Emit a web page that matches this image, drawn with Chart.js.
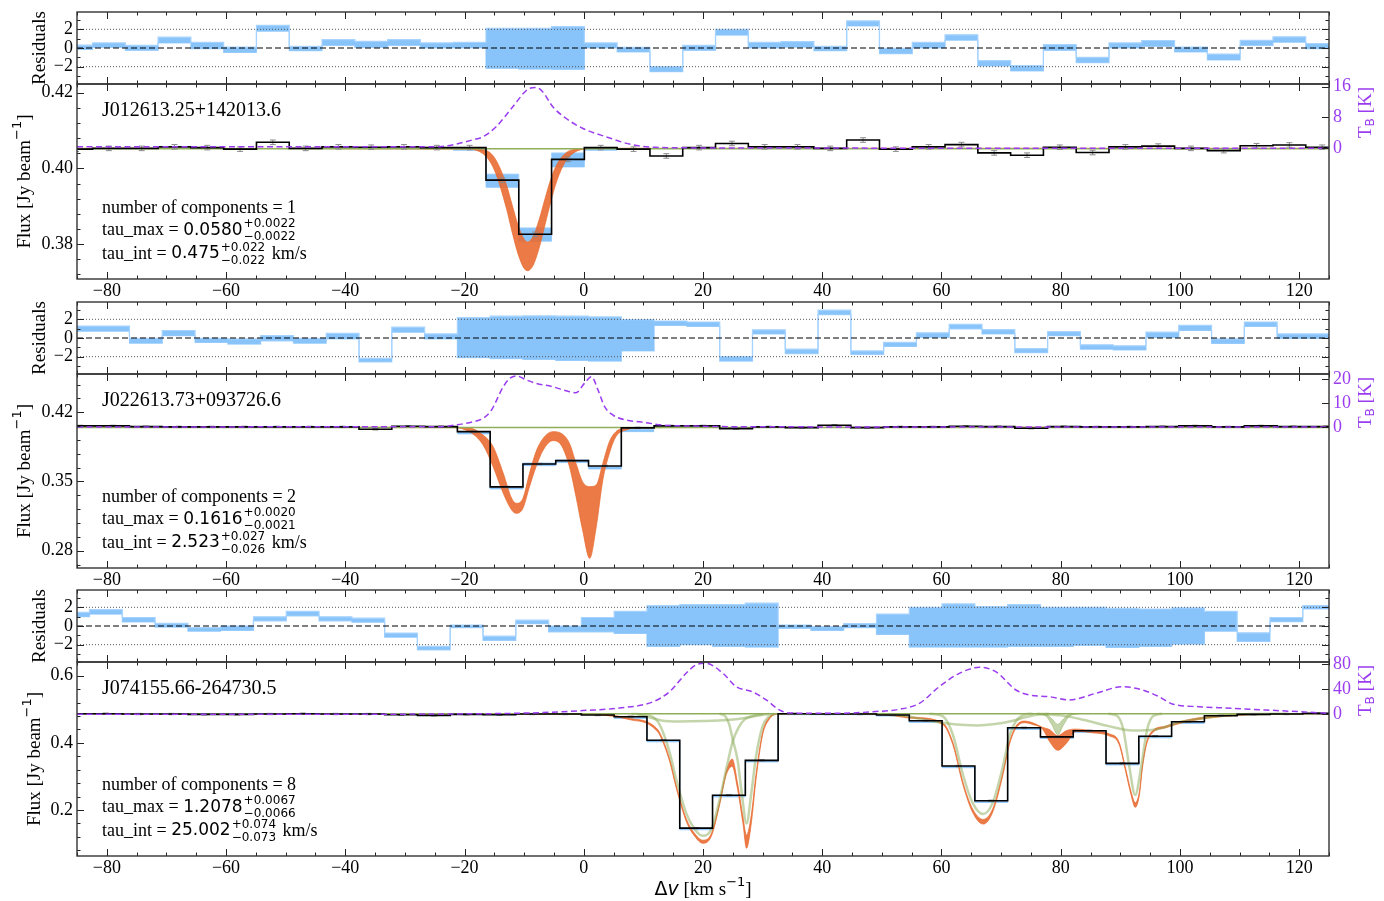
<!DOCTYPE html>
<html>
<head>
<meta charset="utf-8">
<script src="https://cdn.jsdelivr.net/npm/chart.js@4.4.1/dist/chart.umd.min.js"></script>
<style>
  body { margin: 0; background: #fff; }
  #wrap { position: relative; width: 1384px; height: 901px; overflow: hidden; }
  canvas { position: absolute; left: 0; }
</style>
</head>
<body>
<div id="wrap">
  <canvas id="res1" width="1384" height="80" style="top:8px"></canvas>
  <canvas id="flux1" width="1384" height="246" style="top:64px"></canvas>
  <canvas id="res2" width="1384" height="80" style="top:298px"></canvas>
  <canvas id="flux2" width="1384" height="246" style="top:354px"></canvas>
  <canvas id="res3" width="1384" height="80" style="top:586px"></canvas>
  <canvas id="flux3" width="1384" height="259" style="top:642px"></canvas>
</div>
<script>
// ---- velocity axis ----
const X_MIN = -85, X_MAX = 125;
const xTickValues = [-80, -60, -40, -20, 0, 20, 40, 60, 80, 100, 120];

// ---- J012613.25+142013.6 ----
const p1Edges = [-87.9, -82.4, -76.9, -71.4, -65.9, -60.4, -54.9, -49.4, -43.9, -38.4, -32.9, -27.4, -21.9, -16.4, -10.9, -5.4, 0.1, 5.6, 11.1, 16.6, 22.1, 27.6, 33.1, 38.6, 44.1, 49.6, 55.1, 60.6, 66.1, 71.6, 77.1, 82.6, 88.1, 93.6, 99.1, 104.6, 110.1, 115.6, 121.1, 126.6];
const p1Flux = [0.4051, 0.4053, 0.4053, 0.4057, 0.4055, 0.4051, 0.4069, 0.4053, 0.4057, 0.4056, 0.4057, 0.4055, 0.4055, 0.3969, 0.3826, 0.4024, 0.4055, 0.4051, 0.4033, 0.4055, 0.4066, 0.4057, 0.4057, 0.4053, 0.4075, 0.4051, 0.4057, 0.4063, 0.4041, 0.4035, 0.4056, 0.4042, 0.4057, 0.4059, 0.4053, 0.4047, 0.4060, 0.4062, 0.4056];
const p1FluxErr = 0.0006;
const p1ResLo = [-0.15, 0.07, -0.25, 0.54, -0.07, -0.47, 1.8, -0.29, 0.29, 0.07, 0.29, 0, 0, -2.17, -2.25, -2.28, 0, -0.43, -2.54, -0.25, 1.38, 0, 0.1, -0.29, 2.36, -0.6, 0, 0.83, -1.92, -2.46, -0.25, -1.56, 0, 0.18, -0.43, -1.27, 0.29, 0.62, -0.07];
const p1ResHi = [0.3, 0.54, 0.29, 1.16, 0.6, 0.1, 2.43, 0.18, 0.9, 0.72, 0.9, 0.54, 0.6, 2.1, 2.1, 2.28, 0.54, 0.07, -2.0, 0.29, 2.0, 0.6, 0.69, 0.18, 2.9, -0.05, 0.6, 1.41, -1.34, -1.88, 0.36, -1.0, 0.54, 0.8, 0.1, -0.65, 0.83, 1.2, 0.47];
const p1BandEdges = [-21.9, -16.4, -10.9, -5.4, 0.1, 5.6];
const p1BandLo = [0.4048, 0.3950, 0.3808, 0.4004, 0.4048];
const p1BandHi = [0.4055, 0.3985, 0.3843, 0.4041, 0.4055];
const p1ModelV = [-85, -20, -17, -15, -13, -12, -11, -10, -9.4, -8.5, -7.5, -6.5, -5.5, -4.5, -3, -1.5, 0, 2, 125];
const p1ModelLo = [0.4053, 0.4051, 0.4040, 0.3996, 0.3896, 0.3831, 0.3773, 0.3736, 0.3730, 0.3744, 0.3789, 0.3851, 0.3914, 0.3968, 0.4020, 0.4043, 0.4051, 0.4053, 0.4053];
const p1ModelHi = [0.4053, 0.4053, 0.4050, 0.4029, 0.3958, 0.3903, 0.3849, 0.3813, 0.3806, 0.3820, 0.3864, 0.3920, 0.3973, 0.4011, 0.4041, 0.4051, 0.4053, 0.4053, 0.4053];
const p1Continuum = 0.4052;
const p1TbV = [-85, -40, -24.2, -21.4, -18.6, -16.9, -14.7, -11.9, -9.4, -8.0, -6.9, -5.2, -3.0, -0.2, 3.7, 8.2, 12.1, 20, 125];
const p1Tb = [0.4, 0.4, 0.43, 1.1, 2.2, 3.0, 5.6, 10.8, 15.3, 15.8, 14.7, 10.8, 7.8, 5.2, 3.0, 0.9, 0.26, 0.1, 0.0];

// ---- J022613.73+093726.6 ----
const p2Edges = [-87.2, -81.7, -76.2, -70.7, -65.2, -59.7, -54.2, -48.7, -43.2, -37.7, -32.2, -26.7, -21.2, -15.7, -10.2, -4.7, 0.8, 6.3, 11.8, 17.3, 22.8, 28.3, 33.8, 39.3, 44.8, 50.3, 55.8, 61.3, 66.8, 72.3, 77.8, 83.3, 88.8, 94.3, 99.8, 105.3, 110.8, 116.3, 121.8, 127.3];
const p2Flux = [0.4062, 0.4062, 0.4055, 0.4052, 0.4052, 0.4052, 0.4052, 0.4052, 0.4052, 0.4028, 0.4058, 0.4055, 0.4004, 0.3445, 0.3677, 0.3711, 0.3657, 0.4042, 0.4062, 0.4062, 0.4035, 0.4052, 0.4045, 0.4069, 0.4045, 0.4052, 0.4052, 0.4059, 0.4055, 0.4039, 0.4055, 0.4052, 0.4052, 0.4055, 0.4062, 0.4052, 0.4062, 0.4055, 0.4055];
const p2FluxErr = 0.0007;
const p2ResLo = [0.73, 0.73, -0.55, 0.25, -0.47, -0.65, -0.3, -0.55, -0.1, -2.55, 0.62, -0.1, -2.1, -2.22, -2.29, -2.4, -2.47, -1.38, 1.35, 1.24, -2.47, 0.44, -1.67, 2.5, -1.75, -0.9, 0.07, 0.98, 0.44, -1.56, 0.25, -1.2, -1.27, 0.07, 0.8, -0.58, 1.24, -0.04, -0.04];
const p2ResHi = [1.27, 1.27, -0.04, 0.8, -0.04, -0.1, 0.25, -0.04, 0.5, -2.18, 1.16, 0.44, 2.18, 2.33, 2.36, 2.33, 2.25, 1.96, 1.82, 1.71, -2.0, 0.87, -1.2, 2.98, -1.38, -0.47, 0.55, 1.45, 0.9, -1.13, 0.69, -0.73, -0.84, 0.62, 1.35, -0.1, 1.71, 0.44, 0.44];
const p2BandEdges = [-21.2, -15.7, -10.2, -4.7, 0.8, 6.3, 11.8];
const p2BandLo = [0.3981, 0.3424, 0.3660, 0.3691, 0.3626, 0.4004];
const p2BandHi = [0.4004, 0.3441, 0.3687, 0.3718, 0.3650, 0.4028];
const p2ModelV = [-85, -22, -19.1, -16.9, -15.2, -13.5, -12.1, -11.3, -10.2, -9.1, -8.0, -6.8, -5.2, -3.8, -2.4, -1.3, -0.2, 1.0, 2.1, 3.2, 4.3, 5.4, 7.1, 9.4, 125];
const p2ModelLo = [0.4048, 0.4044, 0.4000, 0.3870, 0.3650, 0.3380, 0.3212, 0.3178, 0.3229, 0.3448, 0.3650, 0.3819, 0.3913, 0.3869, 0.3650, 0.3347, 0.3010, 0.2723, 0.3043, 0.3515, 0.3785, 0.3954, 0.4021, 0.4045, 0.4048];
const p2ModelHi = [0.4048, 0.4048, 0.4040, 0.3970, 0.3852, 0.3583, 0.3330, 0.3279, 0.3330, 0.3583, 0.3802, 0.3937, 0.4004, 0.3987, 0.3886, 0.3684, 0.3498, 0.3448, 0.3465, 0.3684, 0.3903, 0.4004, 0.4038, 0.4045, 0.4048];
const p2Continuum = 0.4046;
const p2TbV = [-85, -40, -24.2, -21.4, -18.6, -16.9, -15.5, -13.5, -12.4, -11.3, -9.6, -8.0, -5.2, -2.4, -1.3, 0.1, 1.3, 2.4, 3.5, 4.9, 7.1, 9.4, 13.1, 18.6, 30, 125];
const p2Tb = [0.1, 0.2, 0.25, 1.0, 2.3, 3.7, 7.1, 16.9, 20.4, 21.4, 19.7, 18.3, 16.9, 14.8, 14.4, 18.3, 21.1, 15.5, 8.6, 5.1, 3.0, 2.3, 1.0, 0.5, 0.2, 0.1];

// ---- J074155.66-264730.5 ----
const p3Edges = [-88.4, -82.9, -77.4, -71.9, -66.4, -60.9, -55.4, -49.9, -44.4, -38.9, -33.4, -27.9, -22.4, -16.9, -11.4, -5.9, -0.4, 5.1, 10.6, 16.1, 21.6, 27.1, 32.6, 38.1, 43.6, 49.1, 54.6, 60.1, 65.6, 71.1, 76.6, 82.1, 87.6, 93.1, 98.6, 104.1, 109.6, 115.1, 120.6, 126.1];
const p3Flux = [0.487, 0.487, 0.486, 0.486, 0.485, 0.485, 0.486, 0.487, 0.486, 0.486, 0.484, 0.482, 0.485, 0.484, 0.486, 0.486, 0.483, 0.478, 0.408, 0.146, 0.244, 0.348, 0.487, 0.486, 0.486, 0.483, 0.466, 0.331, 0.2275, 0.445, 0.418, 0.436, 0.339, 0.420, 0.463, 0.481, 0.485, 0.486, 0.488];
const p3FluxErr = 0.002;
const p3ResLo = [1.0, 1.27, 0.44, -0.11, -0.55, -0.47, 0.55, 1.09, 0.55, 0.4, -1.2, -2.55, -0.18, -1.53, 0.25, -0.62, -0.62, -0.8, -2.18, -2.0, -2.18, -2.25, -0.25, -0.47, -0.18, -0.91, -2.25, -2.25, -2.25, -2.18, -2.18, -2.07, -2.29, -2.18, -1.93, -0.55, -1.64, 0.47, 1.82];
const p3ResHi = [1.45, 1.75, 0.91, 0.29, -0.18, 0, 0.98, 1.56, 0.98, 0.84, -0.76, -2.18, 0.1, -1.09, 0.62, 0, 0.91, 1.56, 2.18, 2.29, 2.29, 2.44, 0.1, -0.07, 0.25, 1.27, 2.0, 2.36, 2.07, 2.29, 2.0, 2.0, 1.89, 1.82, 1.93, 1.56, -0.73, 0.91, 2.18];
const p3BandEdges = [5.1, 10.6, 16.1, 21.6, 27.1, 32.6, 38.1, 43.6, 49.1, 54.6, 60.1, 65.6, 71.1, 76.6, 82.1, 87.6, 93.1, 98.6, 104.1];
const p3BandLo = [0.473, 0.403, 0.141, 0.239, 0.343, 0.484, 0.484, 0.484, 0.480, 0.461, 0.326, 0.2225, 0.440, 0.413, 0.431, 0.334, 0.415, 0.458];
const p3BandHi = [0.478, 0.408, 0.146, 0.244, 0.348, 0.487, 0.487, 0.487, 0.483, 0.466, 0.331, 0.2275, 0.445, 0.418, 0.436, 0.339, 0.420, 0.463];
const p3ModelV = [-85, -20, 0, 5.0, 8.0, 10.5, 12.0, 12.7, 14.4, 15.5, 17.2, 18.6, 20.0, 21.4, 22.8, 23.9, 24.9, 25.8, 26.7, 27.3, 28.1, 28.9, 30.0, 31.1, 32.3, 40, 50, 54.6, 60.2, 61.9, 63.6, 65.2, 67.0, 68.6, 70.3, 71.4, 72.5, 73.9, 75.3, 77.0, 78.1, 79.5, 81.0, 82.6, 85.3, 88.1, 89.8, 90.9, 91.8, 92.5, 93.2, 93.7, 94.4, 95.4, 97.6, 100.4, 103.2, 108.8, 114.4, 125];
const p3ModelLo = [0.487, 0.486, 0.485, 0.479, 0.468, 0.459, 0.440, 0.425, 0.345, 0.266, 0.166, 0.122, 0.101, 0.122, 0.216, 0.305, 0.330, 0.262, 0.160, 0.086, 0.160, 0.292, 0.424, 0.470, 0.485, 0.487, 0.485, 0.474, 0.455, 0.395, 0.275, 0.194, 0.158, 0.194, 0.304, 0.395, 0.444, 0.460, 0.455, 0.440, 0.405, 0.378, 0.400, 0.435, 0.430, 0.421, 0.395, 0.314, 0.245, 0.208, 0.245, 0.324, 0.395, 0.430, 0.445, 0.460, 0.470, 0.481, 0.485, 0.487];
const p3ModelHi = [0.487, 0.487, 0.487, 0.482, 0.472, 0.464, 0.447, 0.432, 0.353, 0.274, 0.174, 0.130, 0.110, 0.130, 0.224, 0.315, 0.352, 0.280, 0.180, 0.125, 0.185, 0.308, 0.432, 0.476, 0.487, 0.487, 0.486, 0.477, 0.460, 0.402, 0.283, 0.204, 0.172, 0.204, 0.312, 0.402, 0.450, 0.465, 0.460, 0.446, 0.440, 0.422, 0.437, 0.441, 0.436, 0.427, 0.402, 0.323, 0.255, 0.222, 0.255, 0.333, 0.402, 0.436, 0.450, 0.465, 0.475, 0.484, 0.487, 0.487];
const p3Continuum = 0.487;
// individual Gaussian components (velocity, flux)
const p3Comp1V = [8, 11, 12.7, 14.4, 15.5, 17.2, 18.6, 20.0, 21.4, 22.8, 24.0, 25.0, 26.0, 27.0, 28.3, 30.0];
const p3Comp1 = [0.486, 0.482, 0.455, 0.372, 0.292, 0.190, 0.143, 0.123, 0.143, 0.232, 0.330, 0.405, 0.447, 0.470, 0.480, 0.485];
const p3Comp2V = [9, 11, 13, 16, 20, 24, 27, 29, 31];
const p3Comp2 = [0.486, 0.476, 0.467, 0.464, 0.465, 0.468, 0.474, 0.481, 0.486];
const p3Comp3V = [22.8, 23.8, 24.4, 25.0, 25.8, 26.5, 27.3, 28.1, 28.9, 30.0, 31.0, 32.0];
const p3Comp3 = [0.487, 0.478, 0.455, 0.409, 0.349, 0.25, 0.16, 0.25, 0.36, 0.45, 0.478, 0.487];
const p3Comp4V = [58, 60.2, 61.9, 63.6, 65.2, 67.0, 68.6, 70.3, 71.4, 72.5, 73.9, 75.3];
const p3Comp4 = [0.487, 0.480, 0.425, 0.305, 0.222, 0.188, 0.222, 0.330, 0.420, 0.465, 0.484, 0.487];
const p3Comp5V = [50, 54.6, 58, 61, 64, 66, 69, 72, 74, 76, 78];
const p3Comp5 = [0.487, 0.478, 0.466, 0.458, 0.453, 0.452, 0.456, 0.466, 0.476, 0.484, 0.487];
const p3Comp6V = [76, 77.5, 78.5, 79.5, 80.5, 81.5, 83];
const p3Comp6Lo = [0.487, 0.480, 0.455, 0.425, 0.455, 0.480, 0.487];
const p3Comp6Hi = [0.487, 0.485, 0.472, 0.455, 0.472, 0.485, 0.487];
const p3Comp7V = [88, 89.5, 90.5, 91.5, 92.5, 93.5, 94.5, 95.5, 97];
const p3Comp7 = [0.487, 0.480, 0.440, 0.330, 0.245, 0.330, 0.440, 0.480, 0.487];
const p3Comp8V = [76, 80, 84, 88, 92, 96, 100, 104, 108, 112, 118];
const p3Comp8 = [0.487, 0.482, 0.468, 0.450, 0.437, 0.440, 0.462, 0.474, 0.482, 0.486, 0.487];
const p3TbV = [-85, -40, -24.2, -7.4, -0.2, 6.0, 11.6, 14.4, 17.2, 18.8, 20.5, 23.3, 25.6, 28.3, 30.6, 32.8, 34.5, 42.9, 48.5, 52.9, 56.3, 59.6, 63.0, 66.4, 69.1, 72.5, 74.7, 78.1, 81.4, 85.9, 90.4, 93.7, 96.5, 98.7, 103.2, 108.8, 114.4, 120.0, 125];
const p3Tb = [0.0, 0.2, 0.5, 2.6, 6.0, 10.0, 20.0, 36.2, 66.0, 79.0, 81.6, 66.0, 44.0, 36.0, 23.0, 7.0, 2.0, 1.6, 4.2, 8.0, 17.6, 44.0, 65.6, 75.2, 68.2, 38.9, 30.9, 28.2, 22.9, 33.6, 44.2, 38.9, 28.2, 16.5, 12.2, 9.6, 6.9, 4.2, 1.6];

// ---- look ----
const SERIF = "'Liberation Serif', 'Times New Roman', serif";
const SANS = "'DejaVu Sans', sans-serif";
const PURPLE = '#9a3cf0';
const ORANGE = 'rgba(232, 104, 44, 0.88)';
const OLIVE = '#8fae5a';
const OLIVE_SOFT = 'rgba(140, 172, 88, 0.5)';
const BLUE = '#88c3fa';
const BLUE_EDGE = '#a6d3ff';
const NO_GRID = { display: false, drawTicks: false };

Chart.defaults.font.family = SERIF;
Chart.defaults.font.size = 18;
Chart.defaults.color = '#000';
Chart.defaults.elements.point.radius = 0;
Chart.defaults.elements.point.hoverRadius = 0;

const serif = n => n + "px " + SERIF;
const sans = n => n + "px " + SANS;

function fmt(v, d) {
    const s = Math.abs(v).toFixed(d);
    return v < 0 ? '\u2212' + s : s;
}

function stepPoints(edges, vals) {
    const pts = vals.map((v, i) => ({ x: edges[i], y: v }));
    pts.push({ x: edges[edges.length - 1], y: vals[vals.length - 1] });
    return pts;
}

function curve(xs, ys) {
    return xs.map((x, i) => ({ x: x, y: ys[i] }));
}

function errorBars(edges, vals, err) {
    const pts = [];
    vals.forEach((v, i) => {
        const c = (edges[i] + edges[i + 1]) / 2;
        pts.push({ x: c, y: v - err }, { x: c, y: v + err }, { x: c, y: null },
                 { x: c - 0.5, y: v - err }, { x: c + 0.5, y: v - err }, { x: c, y: null },
                 { x: c - 0.5, y: v + err }, { x: c + 0.5, y: v + err }, { x: c, y: null });
    });
    return pts;
}

function hline(y, color, dash, width) {
    return { data: [{ x: X_MIN, y: y }, { x: X_MAX, y: y }], borderColor: color, borderDash: dash, borderWidth: width };
}

function drawParts(ctx, x, y, parts) {
    parts.forEach(p => {
        ctx.font = p[1];
        ctx.fillText(p[0], x, y + (p[2] || 0));
        x += ctx.measureText(p[0]).width;
    });
}

function partsWidth(ctx, parts) {
    let w = 0;
    parts.forEach(p => { ctx.font = p[1]; w += ctx.measureText(p[0]).width; });
    return w;
}

function drawCentered(ctx, cx, cy, parts, rotate) {
    ctx.save();
    ctx.translate(cx, cy);
    if (rotate) ctx.rotate(-Math.PI / 2);
    drawParts(ctx, -partsWidth(ctx, parts) / 2, 0, parts);
    ctx.restore();
}

function drawTau(ctx, x, y, label, vals, unit) {
    ctx.font = serif(18);
    ctx.fillText(label, x, y);
    x += ctx.measureText(label).width;
    ctx.font = sans(17);
    ctx.fillText(vals[0], x, y);
    x += ctx.measureText(vals[0]).width + 1;
    ctx.font = sans(12);
    ctx.fillText(vals[1], x, y - 6.5);
    ctx.fillText(vals[2], x, y + 6.5);
    x += Math.max(ctx.measureText(vals[1]).width, ctx.measureText(vals[2]).width);
    if (unit) {
        ctx.font = serif(18);
        ctx.fillText(unit, x + 2, y);
    }
}

// inward ticks on all four sides plus the frame
const frameTicks = {
    id: 'frameTicks',
    afterDatasetsDraw(chart, args, o) {
        const ctx = chart.ctx, a = chart.chartArea;
        const sx = chart.scales.x, sy = chart.scales.y;
        const seg = (x1, y1, x2, y2) => { ctx.beginPath(); ctx.moveTo(x1, y1); ctx.lineTo(x2, y2); ctx.stroke(); };
        ctx.save();
        ctx.strokeStyle = '#222';
        ctx.lineWidth = 1;
        for (let v = -85; v <= 125; v += 5) {
            const px = Math.round(sx.getPixelForValue(v)) + 0.5;
            const len = v % 20 === 0 ? 7 : 3.5;
            seg(px, a.top, px, a.top + len);
            seg(px, a.bottom, px, a.bottom - len);
        }
        const majors = o.yMajor;
        const isMajor = v => majors.some(m => Math.abs(m - v) < o.yMinor * 0.01);
        const start = Math.ceil(sy.min / o.yMinor - 1e-6);
        for (let i = start; i * o.yMinor <= sy.max + 1e-9; i++) {
            const v = i * o.yMinor;
            const py = Math.round(sy.getPixelForValue(v)) + 0.5;
            const len = isMajor(v) ? 7 : 3.5;
            seg(a.left, py, a.left + len, py);
            if (o.mirror) seg(a.right, py, a.right - len, py);
        }
        if (o.rightMajor) {
            const s2 = chart.scales.y2;
            o.rightMajor.forEach(v => {
                const py = Math.round(s2.getPixelForValue(v)) + 0.5;
                seg(a.right, py, a.right - 7, py);
            });
        }
        ctx.lineWidth = 1.4;
        ctx.strokeStyle = '#333';
        ctx.strokeRect(a.left, a.top, a.right - a.left, a.bottom - a.top);
        ctx.restore();
    }
};

// axis titles and the fit summary text
const notes = {
    id: 'notes',
    afterDraw(chart, args, o) {
        const ctx = chart.ctx, a = chart.chartArea;
        ctx.save();
        ctx.textBaseline = 'middle';
        ctx.textAlign = 'left';
        ctx.fillStyle = '#000';
        if (o.resTitle) {
            drawCentered(ctx, 40, (a.top + a.bottom) / 2, [['Residuals', serif(19)]], true);
        }
        if (o.name) {
            ctx.font = serif(20);
            ctx.fillText(o.name, 102, a.top + 27);
            ctx.font = serif(18);
            ctx.fillText('number of components = ' + o.ncomp, 102, a.bottom - 71);
            drawTau(ctx, 102, a.bottom - 48.5, 'tau_max = ', o.tauMax, '');
            drawTau(ctx, 102, a.bottom - 25, 'tau_int = ', o.tauInt, ' km/s');
            drawCentered(ctx, o.fluxTitleX, (a.top + a.bottom) / 2,
                [['Flux [Jy beam', serif(19)], ['\u22121', sans(13), -7], [']', serif(19)]], true);
            ctx.fillStyle = PURPLE;
            drawCentered(ctx, 1366, a.top + 28.5,
                [['T', serif(19)], ['B', sans(12), 5], [' [K]', serif(19)]], true);
            ctx.fillStyle = '#000';
        }
        if (o.xTitle) {
            drawCentered(ctx, 703, a.bottom + 34,
                [['\u0394', sans(19)], ['v', 'italic ' + sans(19)], [' [km s', serif(19)], ['\u22121', sans(13), -7], [']', serif(19)]], false);
        }
        ctx.restore();
    }
};

Chart.register(frameTicks, notes);

function residualChart(id, edges, lo, hi) {
    return new Chart(document.getElementById(id), {
        type: 'line',
        data: {
            datasets: [
                hline(0, '#000', [6, 3], 1.2),
                hline(2, '#555', [1, 2], 1),
                hline(-2, '#555', [1, 2], 1),
                { data: stepPoints(edges, hi), stepped: true, borderColor: BLUE_EDGE, borderWidth: 1.2, backgroundColor: BLUE, fill: '+1' },
                { data: stepPoints(edges, lo), stepped: true, borderColor: BLUE_EDGE, borderWidth: 1.2 }
            ]
        },
        options: {
            responsive: false,
            animation: false,
            devicePixelRatio: 1,
            layout: { padding: { top: 4, bottom: 4, left: 0, right: 55 } },
            plugins: {
                legend: { display: false },
                tooltip: { enabled: false },
                frameTicks: { yMajor: [-2, 0, 2], yMinor: 1, mirror: true },
                notes: { resTitle: true }
            },
            scales: {
                x: { type: 'linear', min: X_MIN, max: X_MAX, display: false },
                y: {
                    min: -3.85, max: 3.85,
                    grid: NO_GRID, border: { display: false },
                    afterBuildTicks: s => { s.ticks = [-2, 0, 2].map(v => ({ value: v })); },
                    afterFit: s => { s.width = 77; s.paddingTop = 0; s.paddingBottom = 0; },
                    ticks: { padding: 4, callback: v => fmt(v, 0) }
                }
            }
        }
    });
}

function fluxChart(id, p) {
    const datasets = [
        { data: curve(p.tbV, p.tb), yAxisID: 'y2', borderColor: PURPLE, borderWidth: 1.5, borderDash: [6, 3.5], cubicInterpolationMode: 'monotone' },
        { data: stepPoints(p.edges, p.flux), stepped: true, borderColor: '#000', borderWidth: 1.6 },
        { data: errorBars(p.edges, p.flux, p.err), borderColor: '#8a8a8a', borderWidth: 1 }
    ];
    p.comps.forEach(c => {
        datasets.push({ data: curve(c[0], c[1]), borderColor: OLIVE_SOFT, borderWidth: 2.5, cubicInterpolationMode: 'monotone' });
    });
    p.compBands.forEach(c => {
        datasets.push(
            { data: curve(c[0], c[2]), borderColor: OLIVE_SOFT, borderWidth: 1, backgroundColor: OLIVE_SOFT, fill: '+1', cubicInterpolationMode: 'monotone' },
            { data: curve(c[0], c[1]), borderColor: OLIVE_SOFT, borderWidth: 1, cubicInterpolationMode: 'monotone' });
    });
    datasets.push(
        { data: curve([X_MIN, X_MAX], [p.cont, p.cont]), borderColor: OLIVE, borderWidth: 1.6 },
        { data: curve(p.modelV, p.modelHi), borderColor: ORANGE, borderWidth: 0.8, backgroundColor: ORANGE, fill: '+1', cubicInterpolationMode: 'monotone' },
        { data: curve(p.modelV, p.modelLo), borderColor: ORANGE, borderWidth: 0.8, cubicInterpolationMode: 'monotone' },
        { data: stepPoints(p.bandEdges, p.bandHi), stepped: true, borderColor: BLUE_EDGE, borderWidth: 1, backgroundColor: BLUE, fill: '+1' },
        { data: stepPoints(p.bandEdges, p.bandLo), stepped: true, borderColor: BLUE_EDGE, borderWidth: 1 }
    );

    return new Chart(document.getElementById(id), {
        type: 'line',
        data: { datasets: datasets },
        options: {
            responsive: false,
            animation: false,
            devicePixelRatio: 1,
            layout: { padding: { top: 20, bottom: 0, left: 0, right: 0 } },
            plugins: {
                legend: { display: false },
                tooltip: { enabled: false },
                frameTicks: { yMajor: p.yTicks, yMinor: p.yMinor, rightMajor: p.tbTicks },
                notes: { name: p.name, ncomp: p.ncomp, tauMax: p.tauMax, tauInt: p.tauInt, fluxTitleX: p.fluxTitleX, xTitle: p.xTitle }
            },
            scales: {
                x: {
                    type: 'linear', min: X_MIN, max: X_MAX,
                    grid: NO_GRID, border: { display: false },
                    afterBuildTicks: s => { s.ticks = xTickValues.map(v => ({ value: v })); },
                    afterFit: s => { s.height = p.xAxisH; s.paddingLeft = 0; s.paddingRight = 0; },
                    ticks: { padding: 1, autoSkip: false, maxRotation: 0, callback: v => fmt(v, 0) }
                },
                y: {
                    position: 'left', min: p.yMin, max: p.yMax,
                    grid: NO_GRID, border: { display: false },
                    afterBuildTicks: s => { s.ticks = p.yTicks.map(v => ({ value: v })); },
                    afterFit: s => { s.width = 77; s.paddingTop = 0; s.paddingBottom = 0; },
                    ticks: { padding: 4, callback: v => fmt(v, p.yDec) }
                },
                y2: {
                    position: 'right', min: p.tbMin, max: p.tbMax,
                    grid: NO_GRID, border: { display: false },
                    afterBuildTicks: s => { s.ticks = p.tbTicks.map(v => ({ value: v })); },
                    afterFit: s => { s.width = 55; s.paddingTop = 0; s.paddingBottom = 0; },
                    ticks: { padding: 4, color: PURPLE, callback: v => String(v) }
                }
            }
        }
    });
}

residualChart('res1', p1Edges, p1ResLo, p1ResHi);
fluxChart('flux1', {
    edges: p1Edges, flux: p1Flux, err: p1FluxErr,
    bandEdges: p1BandEdges, bandLo: p1BandLo, bandHi: p1BandHi,
    modelV: p1ModelV, modelLo: p1ModelLo, modelHi: p1ModelHi, cont: p1Continuum,
    comps: [], compBands: [],
    tbV: p1TbV, tb: p1Tb,
    yMin: 0.3708, yMax: 0.4223, yTicks: [0.38, 0.40, 0.42], yMinor: 0.004, yDec: 2,
    tbMin: -33.95, tbMax: 16.7, tbTicks: [0, 8, 16],
    xAxisH: 31, fluxTitleX: 25, xTitle: false,
    name: 'J012613.25+142013.6', ncomp: 1,
    tauMax: ['0.0580', '+0.0022', '\u22120.0022'], tauInt: ['0.475', '+0.022', '\u22120.022']
});

residualChart('res2', p2Edges, p2ResLo, p2ResHi);
fluxChart('flux2', {
    edges: p2Edges, flux: p2Flux, err: p2FluxErr,
    bandEdges: p2BandEdges, bandLo: p2BandLo, bandHi: p2BandHi,
    modelV: p2ModelV, modelLo: p2ModelLo, modelHi: p2ModelHi, cont: p2Continuum,
    comps: [], compBands: [],
    tbV: p2TbV, tb: p2Tb,
    yMin: 0.2625, yMax: 0.4587, yTicks: [0.28, 0.35, 0.42], yMinor: 0.014, yDec: 2,
    tbMin: -58.6, tbMax: 22.2, tbTicks: [0, 10, 20],
    xAxisH: 32, fluxTitleX: 25, xTitle: false,
    name: 'J022613.73+093726.6', ncomp: 2,
    tauMax: ['0.1616', '+0.0020', '\u22120.0021'], tauInt: ['2.523', '+0.027', '\u22120.026']
});

residualChart('res3', p3Edges, p3ResLo, p3ResHi);
fluxChart('flux3', {
    edges: p3Edges, flux: p3Flux, err: p3FluxErr,
    bandEdges: p3BandEdges, bandLo: p3BandLo, bandHi: p3BandHi,
    modelV: p3ModelV, modelLo: p3ModelLo, modelHi: p3ModelHi, cont: p3Continuum,
    comps: [[p3Comp1V, p3Comp1], [p3Comp2V, p3Comp2], [p3Comp3V, p3Comp3], [p3Comp4V, p3Comp4],
            [p3Comp5V, p3Comp5], [p3Comp7V, p3Comp7], [p3Comp8V, p3Comp8]],
    compBands: [[p3Comp6V, p3Comp6Lo, p3Comp6Hi]],
    tbV: p3TbV, tb: p3Tb,
    yMin: 0.063, yMax: 0.641, yTicks: [0.2, 0.4, 0.6], yMinor: 0.04, yDec: 1,
    tbMin: -226.7, tbMax: 83.7, tbTicks: [0, 40, 80],
    xAxisH: 45, fluxTitleX: 35, xTitle: true,
    name: 'J074155.66-264730.5', ncomp: 8,
    tauMax: ['1.2078', '+0.0067', '\u22120.0066'], tauInt: ['25.002', '+0.074', '\u22120.073']
});
</script>
</body>
</html>
